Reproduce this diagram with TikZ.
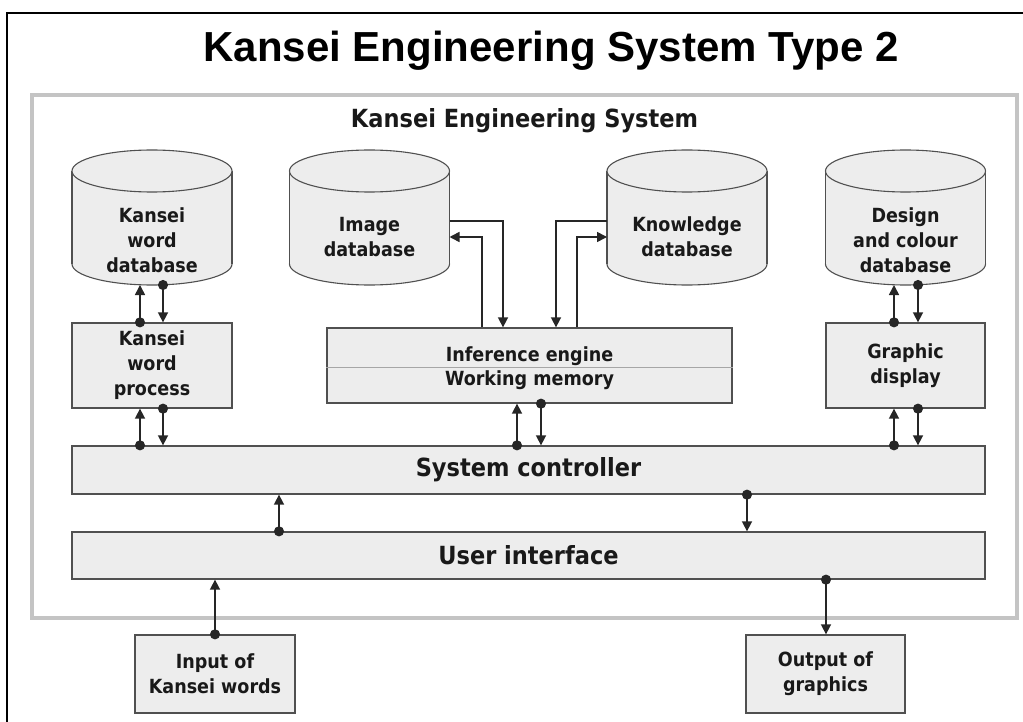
\documentclass[tikz,border=0pt]{standalone}
\usepackage{fontspec}
\usetikzlibrary{arrows.meta}
\newfontfamily\titlefont{Liberation Sans}
\newfontfamily\labfont[FakeStretch=0.9]{DejaVu Sans}
\definecolor{boxgray}{HTML}{EDEDED}
\definecolor{edgegray}{HTML}{505050}
\definecolor{framegray}{HTML}{C4C4C4}

\tikzset{
  lab/.style={align=center, inner sep=0pt, text=black!90,
    font=\labfont\bfseries\fontsize{19.5}{25}\selectfont},
  box/.style={lab, draw=edgegray, line width=1.3pt, fill=boxgray},
  cylshape/.style={draw=edgegray, line width=1.1pt, fill=boxgray},
  hold/.style={inner sep=0pt, outer sep=0pt},
  arr/.style={draw=black!85, line width=1.6pt, -{Triangle[width=10pt,length=10pt]}},
  dotarr/.style={arr, {Circle[length=10pt]}-{Triangle[width=10pt,length=10pt]}, shorten <=-5pt},
}

\begin{document}
\begin{tikzpicture}[x=1pt,y=-1pt]
\useasboundingbox (0,0) rectangle (1023,722);

% page frame (left and top edges only)
\draw[line width=2.5pt, black] (7,722) -- (7,13) -- (1023,13);

% title
\node[font=\titlefont\bfseries\fontsize{42}{50}\selectfont, anchor=base] (title) at (551,62) {Kansei Engineering System Type 2};

% system boundary
\draw[line width=4.5pt, framegray] (32,95) rectangle (1017,618);
\node[lab, font=\labfont\bfseries\fontsize{25}{30}\selectfont, anchor=base] (sub) at (524.5,128) {Kansei Engineering System};

% database cylinders
\foreach \c in {152,369.5,687,905.5}{
  \filldraw[cylshape] (\c,264) ellipse [x radius=80pt, y radius=21pt];
  \fill[boxgray] (\c-80,171) rectangle (\c+80,264);
  \draw[cylshape, fill=none] (\c-80,171) -- (\c-80,264) (\c+80,171) -- (\c+80,264);
  \filldraw[cylshape] (\c,171) ellipse [x radius=80pt, y radius=21pt];
}
\node[hold, minimum width=160pt, minimum height=135pt] (kwdb) at (152,217.5) {};
\node[hold, minimum width=160pt, minimum height=135pt] (imgdb) at (369.5,217.5) {};
\node[hold, minimum width=160pt, minimum height=135pt] (kdb) at (687,217.5) {};
\node[hold, minimum width=160pt, minimum height=135pt] (dcdb) at (905.5,217.5) {};

\node[lab] (kwdbt) at (152,240) {Kansei\\word\\database};
\node[lab] (imgdbt) at (369.5,237) {Image\\database};
\node[lab] (kdbt) at (687,237) {Knowledge\\database};
\node[lab] (dcdbt) at (905.5,240) {Design\\and colour\\database};

% processing boxes
\node[box, minimum width=160pt, minimum height=85pt] (proc) at (152,365.5) {Kansei\\word\\process};
\node[box, minimum width=159pt, minimum height=85pt] (gd) at (905.5,365.5) {Graphic\\display};
\node[box, minimum width=405pt, minimum height=75pt] (ie) at (529.5,365.5) {};
\draw[black!35, line width=1pt] ([yshift=-1.5pt]ie.west) -- ([yshift=-1.5pt]ie.east);
\node[lab, anchor=base] (iet) at (529.5,361) {Inference engine};
\node[lab, anchor=base] (wmt) at (529.5,385) {Working memory};

\node[box, minimum width=913pt, minimum height=48pt] (sc) at (528.5,470) {\fontsize{25}{30}\selectfont System controller};
\node[box, minimum width=913pt, minimum height=47pt] (ui) at (528.5,555.5) {\fontsize{25}{30}\selectfont User interface};

\node[box, minimum width=160pt, minimum height=78pt] (inp) at (215,674) {Input of\\Kansei words};
\node[box, minimum width=159pt, minimum height=78pt] (outg) at (825.5,674) {Output of\\graphics};

% connector columns
\coordinate (kL) at (140,0);
\coordinate (kR) at (163,0);
\coordinate (gL) at (894,0);
\coordinate (gR) at (918,0);
\coordinate (iL) at (517,0);
\coordinate (iR) at (541,0);
\coordinate (uL) at (279,0);
\coordinate (uR) at (747,0);
\coordinate (inx) at (215,0);
\coordinate (outx) at (826,0);
\coordinate (a1) at (482,0);
\coordinate (a2) at (503,0);
\coordinate (b1) at (556,0);
\coordinate (b2) at (577,0);

% Kansei word path
\draw[dotarr] (proc.north -| kL) -- (kwdb.south -| kL);
\draw[dotarr] (kwdb.south -| kR) -- (proc.north -| kR);
\draw[dotarr] (sc.north -| kL) -- (proc.south -| kL);
\draw[dotarr] (proc.south -| kR) -- (sc.north -| kR);

% graphics path
\draw[dotarr] (gd.north -| gL) -- (dcdb.south -| gL);
\draw[dotarr] (dcdb.south -| gR) -- (gd.north -| gR);
\draw[dotarr] (sc.north -| gL) -- (gd.south -| gL);
\draw[dotarr] (gd.south -| gR) -- (sc.north -| gR);

% inference engine
\draw[dotarr] (sc.north -| iL) -- (ie.south -| iL);
\draw[dotarr] (ie.south -| iR) -- (sc.north -| iR);
\draw[arr] ([yshift=-3.5pt]imgdb.east) -| (ie.north -| a2);
\draw[arr] (ie.north -| a1) |- ([yshift=-19.5pt]imgdb.east);
\draw[arr] ([yshift=-3.5pt]kdb.west) -| (ie.north -| b1);
\draw[arr] (ie.north -| b2) |- ([yshift=-19.5pt]kdb.west);

% controller and user interface
\draw[dotarr] (ui.north -| uL) -- (sc.south -| uL);
\draw[dotarr] (sc.south -| uR) -- (ui.north -| uR);
\draw[dotarr] (inp.north -| inx) -- (ui.south -| inx);
\draw[dotarr] (ui.south -| outx) -- (outg.north -| outx);
\end{tikzpicture}
\end{document}
